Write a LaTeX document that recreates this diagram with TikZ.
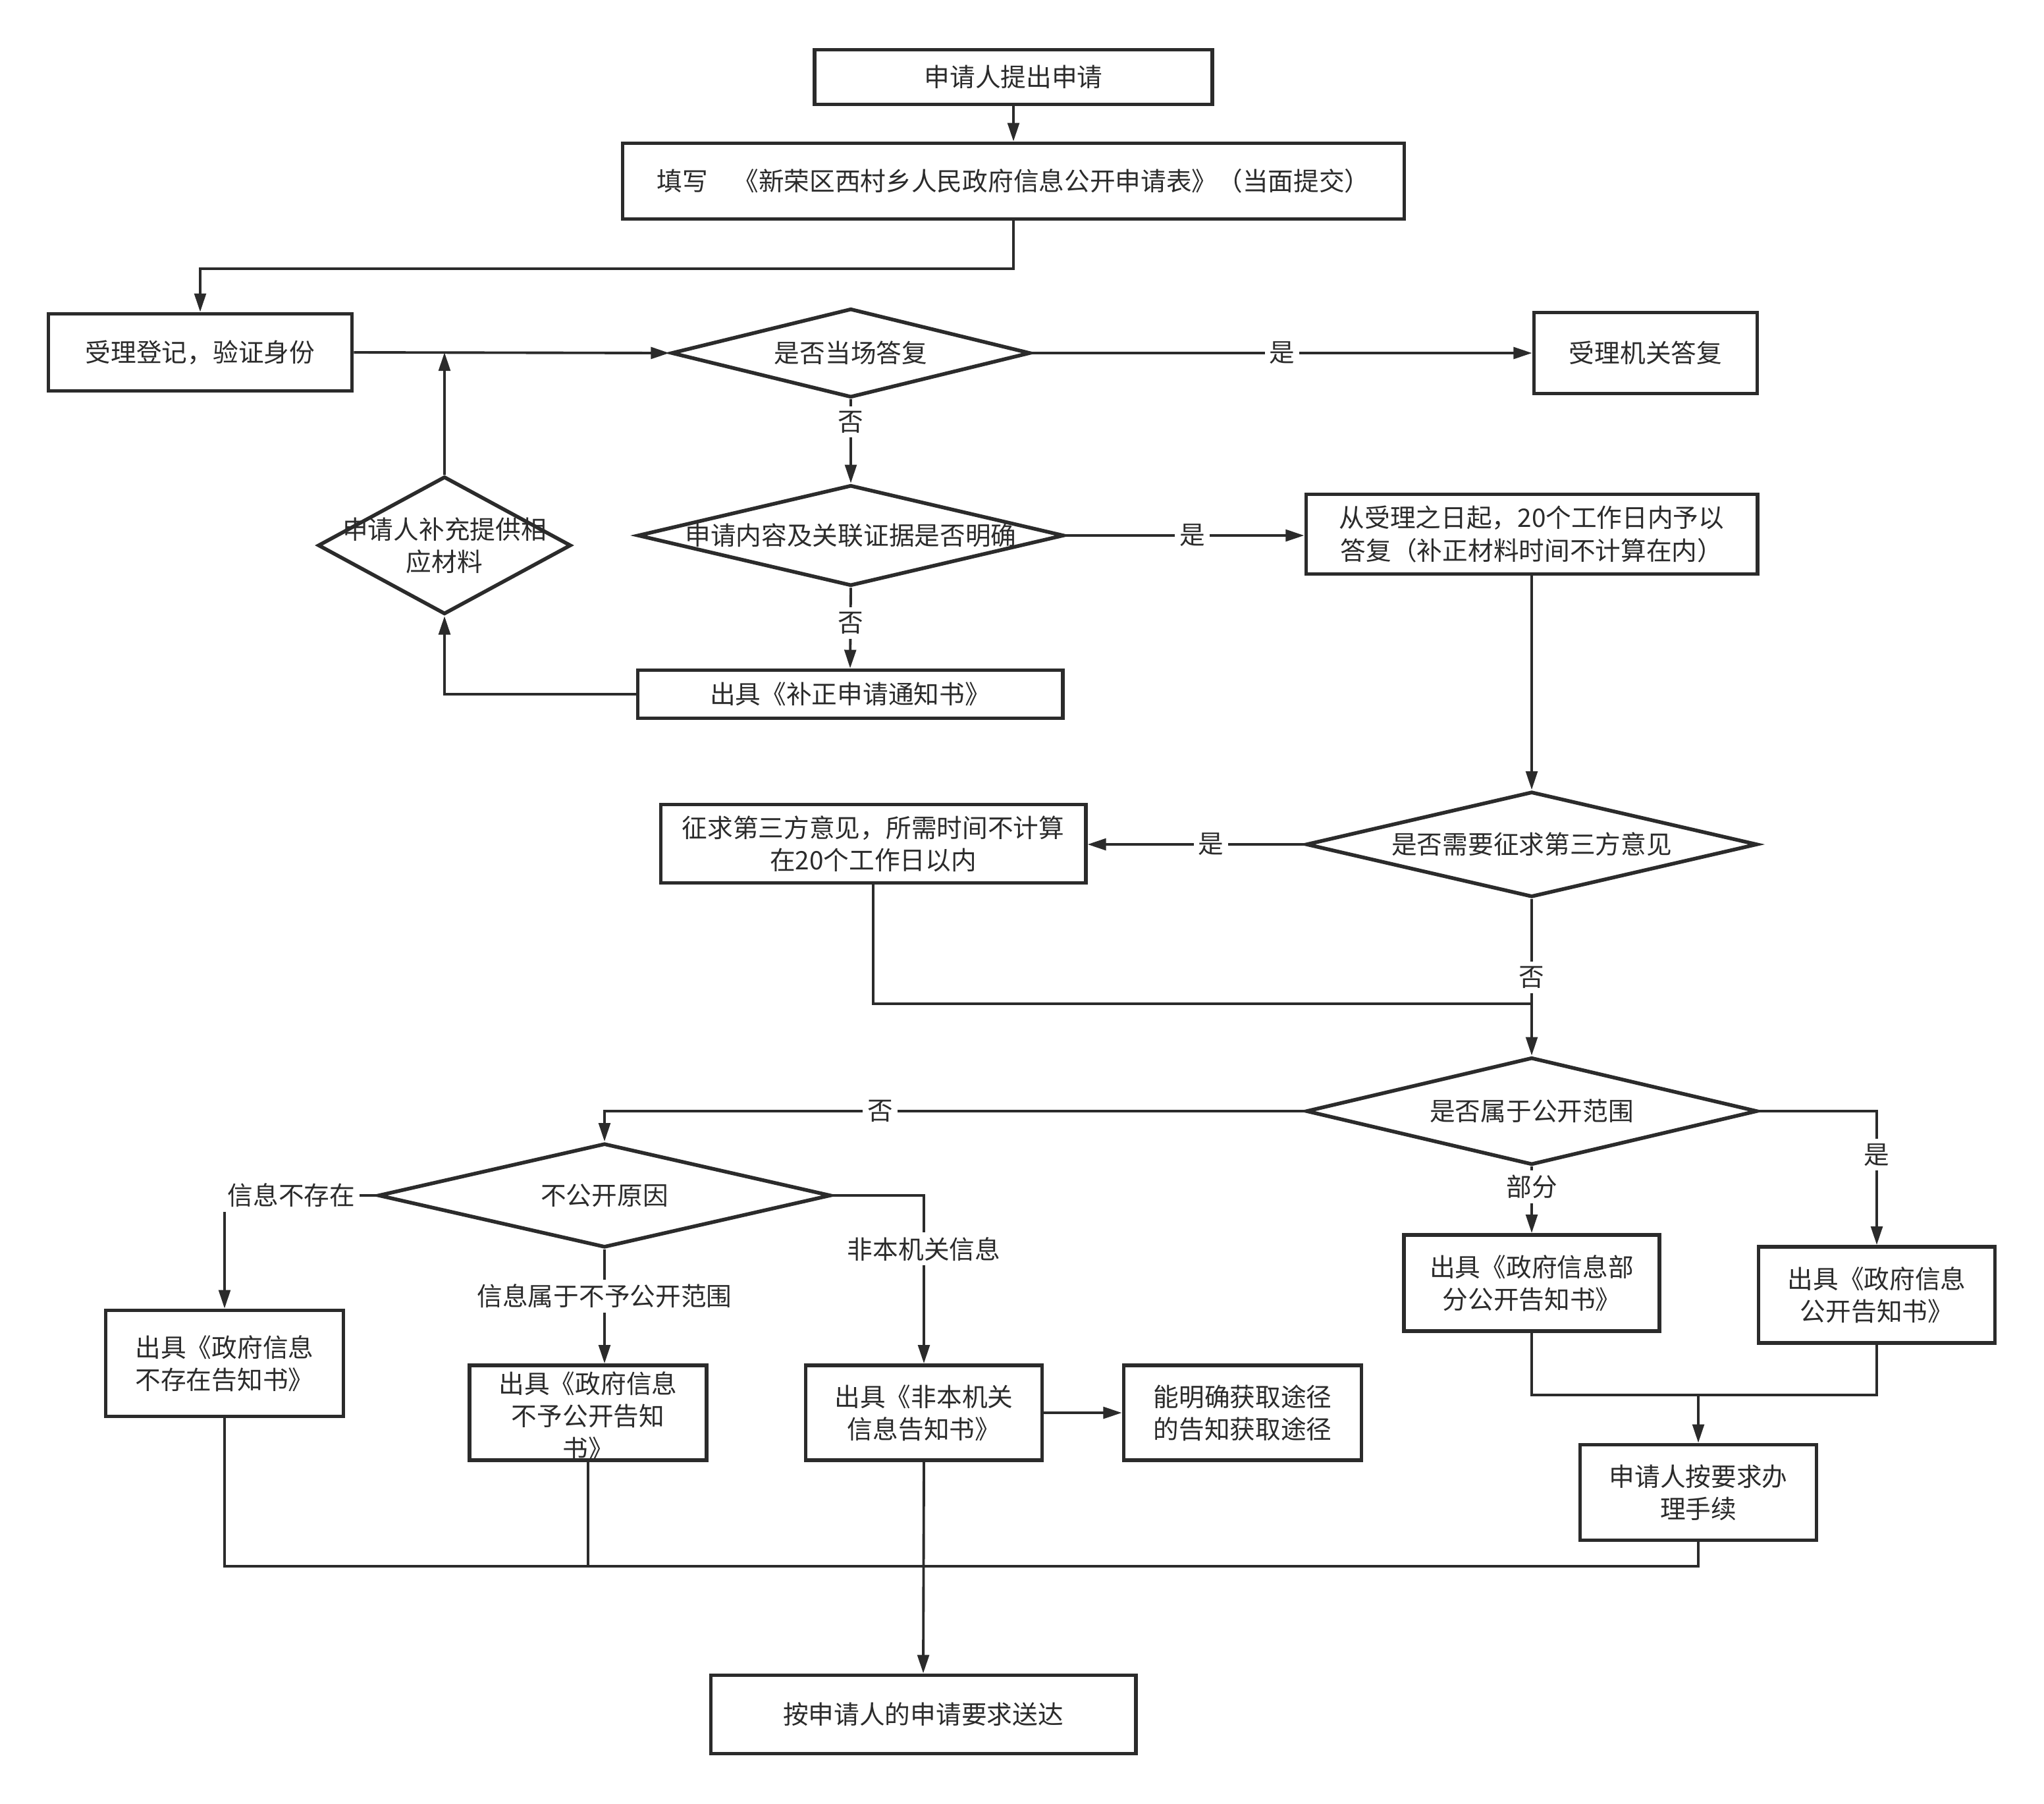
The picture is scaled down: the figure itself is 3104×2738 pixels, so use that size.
\documentclass[tikz,border=0pt]{standalone}
\usepackage{fontspec}
\setmainfont{Noto Sans CJK SC}
\usetikzlibrary{shapes.geometric, arrows.meta, calc}
\definecolor{ink}{HTML}{2B2B2B}
\begin{document}
\begin{tikzpicture}[x=0.01cm, y=-0.01cm,
  box/.style={draw=ink, line width=1.6pt, fill=white, inner sep=2pt, align=center, text=ink, font=\fontsize{11}{14}\selectfont},
  dia/.style={diamond, draw=ink, line width=1.6pt, fill=white, inner sep=0pt},
  txt/.style={align=center, text=ink, font=\fontsize{11}{14}\selectfont, inner sep=1pt},
  lab/.style={fill=white, text=ink, font=\fontsize{11}{14}\selectfont, inner sep=2pt},
  con/.style={draw=ink, line width=1.1pt},
  arr/.style={con, -{Triangle[length=8pt,width=5pt]}},
]
\fill[white] (0,0) rectangle (3104,2738);
\useasboundingbox (0,0) rectangle (3104,2738);

% nodes
\node[box, minimum width=6.04cm, minimum height=0.83cm] (a) at (1539,117) {申请人提出申请};
\node[box, minimum width=11.86cm, minimum height=1.15cm] (b) at (1539,275) {填写\quad《新荣区西村乡人民政府信息公开申请表》（当面提交）};
\node[box, minimum width=4.61cm, minimum height=1.17cm] (c) at (304,535) {受理登记，验证身份};
\node[dia, minimum width=5.45cm, minimum height=1.35cm] (d1) at (1292,536) {};
\node[txt] (d1t) at (d1) {是否当场答复};
\node[box, minimum width=3.39cm, minimum height=1.23cm] (e) at (2499,536) {受理机关答复};
\node[dia, minimum width=6.47cm, minimum height=1.53cm] (d2) at (1292,813) {};
\node[txt] (d2t) at (d2) {申请内容及关联证据是否明确};
\node[box, minimum width=6.85cm, minimum height=1.21cm] (f) at (2326,811) {从受理之日起，20个工作日内予以\\答复（补正材料时间不计算在内）};
\node[box, minimum width=6.45cm, minimum height=0.73cm] (g) at (1291,1054) {出具《补正申请通知书》};
\node[dia, minimum width=3.84cm, minimum height=2.09cm] (ds) at (675,828) {};
\node[txt] (dst) at (ds) {申请人补充提供相\\应材料};
\node[dia, minimum width=6.85cm, minimum height=1.60cm] (d3) at (2326,1282) {};
\node[txt] (d3t) at (d3) {是否需要征求第三方意见};
\node[box, minimum width=6.45cm, minimum height=1.19cm] (h) at (1326,1281) {征求第三方意见，所需时间不计算\\在20个工作日以内};
\node[dia, minimum width=6.85cm, minimum height=1.63cm] (d4) at (2326,1687) {};
\node[txt] (d4t) at (d4) {是否属于公开范围};
\node[box, minimum width=3.88cm, minimum height=1.46cm] (i) at (2326,1948) {出具《政府信息部\\分公开告知书》};
\node[box, minimum width=3.59cm, minimum height=1.46cm] (j) at (2850,1966) {出具《政府信息\\公开告知书》};
\node[box, minimum width=3.59cm, minimum height=1.45cm] (k) at (2579,2266) {申请人按要求办\\理手续};
\node[dia, minimum width=6.87cm, minimum height=1.58cm] (d5) at (918,1815) {};
\node[txt] (d5t) at (d5) {不公开原因};
\node[box, minimum width=3.61cm, minimum height=1.61cm] (l) at (341,2070) {出具《政府信息\\不存在告知书》};
\node[box, minimum width=3.60cm, minimum height=1.44cm] (m) at (893,2145) {};
\node[txt] (mt) at (893,2150) {出具《政府信息\\不予公开告知\\书》};
\node[box, minimum width=3.59cm, minimum height=1.44cm] (n) at (1403,2145) {出具《非本机关\\信息告知书》};
\node[box, minimum width=3.61cm, minimum height=1.44cm] (o) at (1887,2145) {能明确获取途径\\的告知获取途径};
\node[box, minimum width=6.45cm, minimum height=1.19cm] (p) at (1402,2603) {按申请人的申请要求送达};

% connectors
\draw[arr] (a) -- (b);
\draw[arr] (b.south) -- ++(0,73) -| (c.north);
\draw[arr] (c.east) -- (d1.west);
\draw[arr] (ds.north) -- (ds.north |- c.east);
\draw[arr] (d1.east) -- node[lab, pos=0.5] {是} (e.west);
\draw[arr] (d1.south) -- node[lab, pos=0.27] {否} (d2.north);
\draw[arr] (d2.east) -- node[lab, pos=0.53] {是} (f.west |- d2.east);
\draw[arr] (d2.south) -- node[lab, pos=0.44] {否} (g.north);
\draw[arr] (g.west) -| (ds.south);
\draw[arr] (f.south) -- (d3.north);
\draw[arr] (d3.west) -- node[lab, pos=0.43] {是} (h.east |- d3.west);
\coordinate (m1) at (2326,1524);
\draw[con] (h.south) |- (m1);
\draw[arr] (d3.south) -- node[lab, pos=0.5] {否} (d4.north);
\draw[arr] (d4.west) -| node[lab, pos=0.303] {否} (d5.north);
\draw[arr] (d4.east) -| node[lab, pos=0.663] {是} (j.north);
\draw[arr] (d4.south) -- node[lab, pos=0.3] {部分} (i.north);
\coordinate (m2) at (2579,2118);
\draw[con] (i.south) -- (i.south |- m2) -- (j.south |- m2) -- (j.south);
\draw[arr] (m2) -- (k.north);
\draw[arr] (d5.west) -| node[lab, pos=0.28] {信息不存在} (l.north);
\draw[arr] (d5.south) -- node[lab, pos=0.41] {信息属于不予公开范围} (d5.south |- m.north);
\draw[arr] (d5.east) -| node[lab, pos=0.659] {非本机关信息} (n.north);
\draw[arr] (n.east) -- (o.west);
\coordinate (m3) at (1403,2378);
\draw[con] (l.south) |- (m3);
\draw[con] (m.south) |- (m3);
\draw[con] (k.south) |- (m3);
\draw[arr] (n.south) -- (p.north);
\end{tikzpicture}
\end{document}
